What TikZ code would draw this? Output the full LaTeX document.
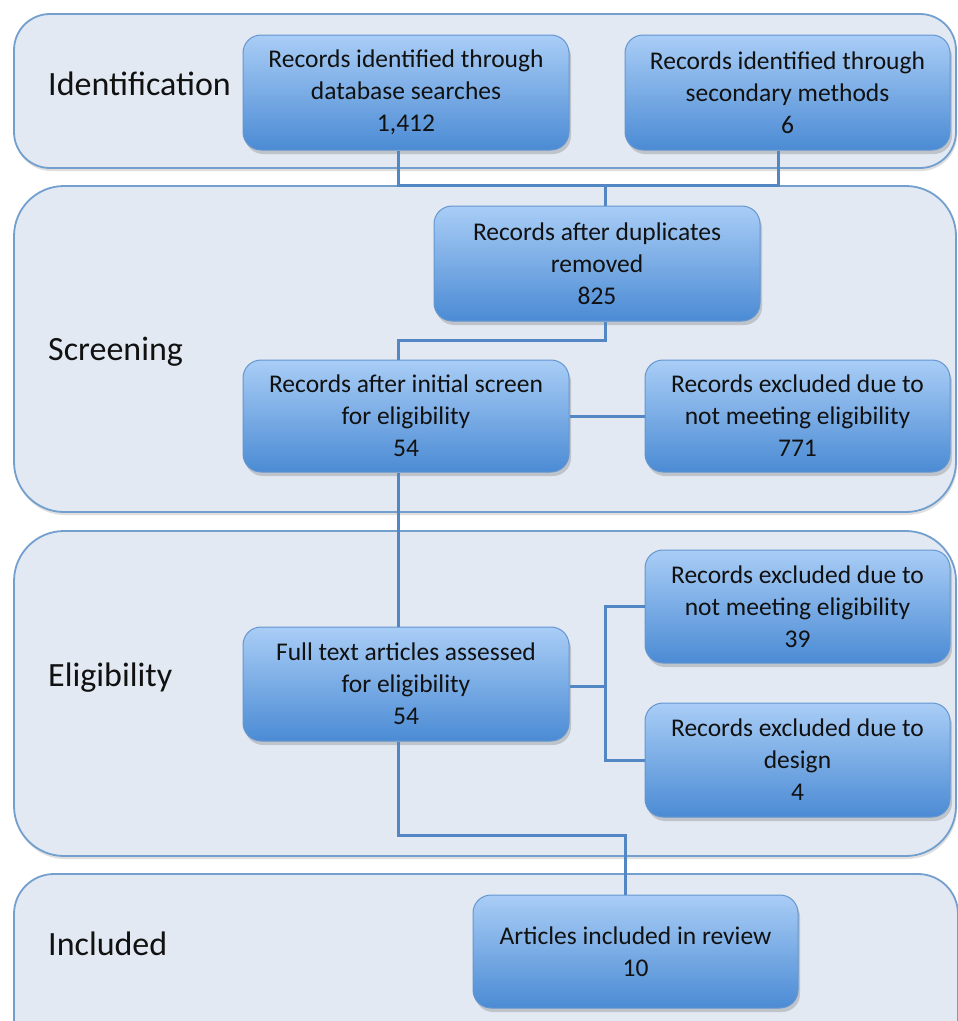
\documentclass[tikz,border=0pt]{standalone}
\usepackage{fontspec}
\setmainfont{Carlito}
\usetikzlibrary{shadows,calc}
\definecolor{lanefill}{HTML}{E2E9F2}
\definecolor{laneborder}{HTML}{739FCF}
\definecolor{boxtop}{HTML}{A9CDF6}
\definecolor{boxbot}{HTML}{4B8BD4}
\definecolor{boxborder}{HTML}{6496D0}
\definecolor{linkcol}{HTML}{5387C4}
\definecolor{txt}{HTML}{111111}
\begin{document}
\begin{tikzpicture}[x=1pt,y=-1pt,
  lane/.style={draw=laneborder, line width=1.8pt, fill=lanefill, rounded corners=#1,
    drop shadow={shadow xshift=1pt, shadow yshift=-3pt, opacity=0.25}},
  lane/.default=36pt,
  lanelabel/.style={anchor=west, text=txt, font=\fontsize{34}{40}\selectfont, inner sep=0pt},
  flowbox/.style={draw=boxborder, line width=1pt, rounded corners=18pt,
    top color=boxtop, bottom color=boxbot, align=center, text=txt,
    font=\fontsize{25.5}{32}\selectfont, inner sep=0pt,
    drop shadow={shadow xshift=2pt, shadow yshift=-4pt, opacity=0.35}},
  link/.style={draw=linkcol, line width=3pt}
]
\useasboundingbox (0,0) rectangle (958,1021);
\clip (0,0) rectangle (958,1021);
% lanes
\draw[lane] (14,14) rectangle (956,168);
\draw[lane=50pt] (14,186) rectangle (956,512);
\draw[lane=50pt] (14,531) rectangle (956,856);
\draw[lane=40pt] (14,874) rectangle (958,1060);
% lane labels
\node[lanelabel] (lid) at (48,84) {Identification};
\node[lanelabel] (lsc) at (48,352) {Screening};
\node[lanelabel] (lel) at (48,678) {Eligibility};
\node[lanelabel] (lin) at (48,944) {Included};
% boxes
\node[flowbox, minimum width=326pt, minimum height=115pt] (b1) at (406,92.5)
  {Records identified through\\database searches\\1,412};
\node[flowbox, minimum width=325pt, minimum height=115pt] (b2) at (787.5,92.5)
  {Records identified through\\secondary methods\\6};
\node[flowbox, minimum width=326pt, minimum height=115pt] (b3) at (597,263.5)
  {Records after duplicates\\removed\\825};
\node[flowbox, minimum width=326pt, minimum height=112pt] (b4) at (406,416)
  {Records after initial screen\\for eligibility\\54};
\node[flowbox, minimum width=305pt, minimum height=112pt] (b5) at (797.5,416)
  {Records excluded due to\\not meeting eligibility\\771};
\node[flowbox, minimum width=326pt, minimum height=114pt] (b6) at (406,684)
  {Full text articles assessed\\for eligibility\\54};
\node[flowbox, minimum width=305pt, minimum height=113pt] (b7) at (797.5,606.5)
  {Records excluded due to\\not meeting eligibility\\39};
\node[flowbox, minimum width=305pt, minimum height=114pt] (b8) at (797.5,760)
  {Records excluded due to\\design\\4};
\node[flowbox, minimum width=325pt, minimum height=113pt] (b9) at (635.5,951.5)
  {Articles included in review\\10};
% junctions
\coordinate (j1) at (605,185);
\coordinate (j2) at (605,686);
\coordinate (j3) at (625,835);
\coordinate (j4) at (398,340);
% connectors
\draw[link] ($(b1.south)+(-8,0)$) |- (j1) -| ($(b2.south)+(-9,0)$);
\draw[link] (j1) -- (b3.north -| j1);
\draw[link] (b3.south -| j1) |- (j4) -- (b4.north -| j4);
\draw[link] (b4.east) -- (b5.west);
\draw[link] (b4.south -| j4) -- (b6.north -| j4);
\draw[link] (b6.south -| j4) |- (j3) -- (b9.north -| j3);
\draw[link] (b6.east |- j2) -- (j2);
\draw[link] (b7.west) -| (j2) |- (b8.west);
\end{tikzpicture}
\end{document}
